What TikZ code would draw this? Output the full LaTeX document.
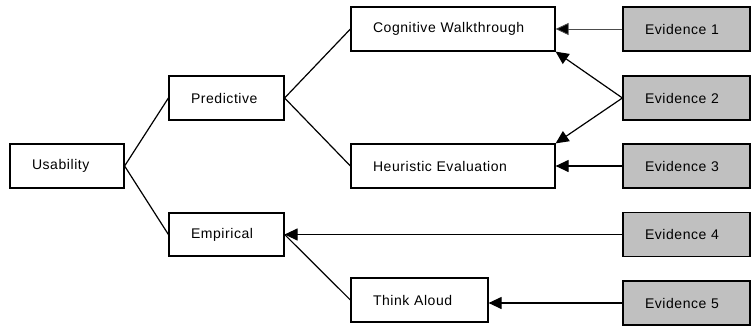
\documentclass[tikz,border=0pt]{standalone}
\usepackage{fontspec}
\setmainfont{Liberation Sans}[LetterSpace=4]
\usepackage{tikz}
\usetikzlibrary{arrows.meta}
\definecolor{evgray}{HTML}{C0C0C0}

\begin{document}
\begin{tikzpicture}[x=1pt,y=-1pt,>={Triangle[length=13pt,width=12pt]},
  box/.style={draw=black,line width=1.2pt,fill=white,minimum height=44pt,align=left,inner xsep=22pt,font=\fontsize{14}{16}\selectfont},
  evbox/.style={box,fill=evgray,minimum width=127pt,text width=83pt},
  link/.style={line width=1.2pt,black}]
\useasboundingbox (0,0) rectangle (751,326);
\node[box,minimum width=114pt,text width=70pt] (us) at (67,166) {Usability};
\node[box,minimum width=115pt,text width=71pt] (pr) at (226.5,98) {Predictive};
\node[box,minimum width=115pt,text width=71pt,minimum height=43pt] (em) at (226.5,234.5) {Empirical};
\node[box,minimum width=204pt,text width=160pt] (cw) at (453,29) {Cognitive Walkthrough};
\node[box,minimum width=204pt,text width=160pt] (he) at (453,166) {Heuristic Evaluation};
\node[box,minimum width=137pt,text width=93pt,minimum height=44pt] (ta) at (419.5,300) {Think Aloud};
\node[evbox] (e1) at (686.5,29) {Evidence 1};
\node[evbox] (e2) at (686.5,98) {Evidence 2};
\node[evbox] (e3) at (686.5,166) {Evidence 3};
\node[evbox] (e4) at (686.5,234.5) {Evidence 4};
\node[evbox] (e5) at (686.5,303) {Evidence 5};
% tree
\draw[link] (pr.west)--(us.east)--(em.west);
\draw[link] (cw.west)--(pr.east)--(he.west);
\draw[link] (em.east)--(ta.west);
% evidence
\draw[-{Triangle[length=13pt,width=12pt,fill=black]},line width=0.8pt,black!70] (e1.west)--(cw.east);
\draw[->,link] (e2.west)--(cw.south east);
\draw[->,link] (e2.west)--(he.north east);
\draw[->,link] (e3.west)--(he.east);
\draw[->,link] (e4.west)--(em.east);
\draw[->,link] (e5.west)--(e5.west -| ta.east);
\end{tikzpicture}
\end{document}
